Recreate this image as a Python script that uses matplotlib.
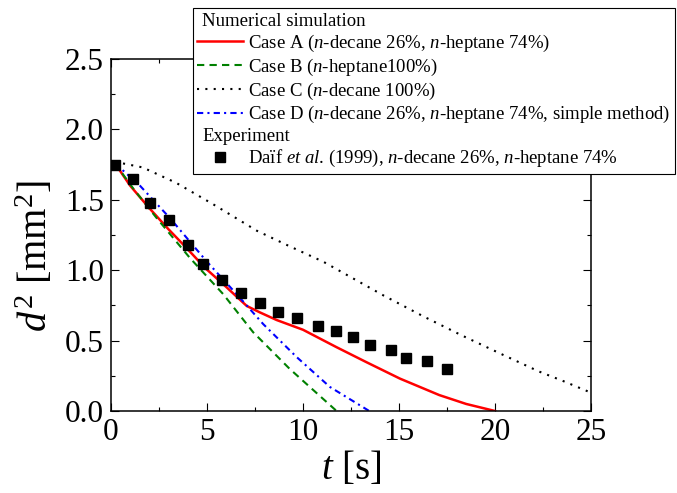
import matplotlib
matplotlib.use("Agg")
import matplotlib.pyplot as plt
from matplotlib.lines import Line2D
from matplotlib.ticker import MultipleLocator, FormatStrFormatter

plt.rcParams['font.family'] = ['Liberation Serif', 'DejaVu Serif']
plt.rcParams['mathtext.fontset'] = 'custom'
plt.rcParams['mathtext.rm'] = 'Liberation Serif'
plt.rcParams['mathtext.it'] = 'Liberation Serif:italic'

# case A: n-decane 26%, n-heptane 74%
t_a = [0.2, 1.0, 2.0, 3.0, 3.94, 4.9, 5.85, 7.07, 7.76, 8.63, 10.0, 11.75, 13.3, 15.05, 17.1, 18.5, 20.0]
d2_a = [1.76, 1.60, 1.44, 1.29, 1.157, 1.016, 0.90, 0.746, 0.70, 0.646, 0.577, 0.453, 0.347, 0.23, 0.113, 0.05, 0.0]

# case B: n-heptane 100%
t_b = [0.2, 1.16, 2.38, 4.11, 5.85, 7.4, 9.3, 11.75]
d2_b = [1.76, 1.58, 1.37, 1.087, 0.829, 0.56, 0.30, 0.0]

# case C: n-decane 100%
t_c = [0.2, 1.65, 3.4, 5.3, 7.6, 9.3, 11.06, 14.2, 16.3, 18.3, 20.4, 22.3, 23.6, 25.0]
d2_c = [1.77, 1.73, 1.62, 1.47, 1.28, 1.17, 1.06, 0.82, 0.67, 0.535, 0.40, 0.28, 0.21, 0.13]

# case D: simple method
t_d = [0.2, 1.51, 3.07, 4.98, 6.55, 7.93, 9.67, 11.4, 13.45]
d2_d = [1.76, 1.60, 1.37, 1.063, 0.829, 0.617, 0.383, 0.171, 0.0]

# experiment, Daif et al. (1999)
t_exp = [0.21, 1.16, 2.03, 3.02, 4.0, 4.81, 5.76, 6.75, 7.76, 8.72, 9.7, 10.76,
         11.72, 12.59, 13.49, 14.57, 15.36, 16.44, 17.48]
d2_exp = [1.75, 1.65, 1.479, 1.357, 1.181, 1.047, 0.93, 0.836, 0.765, 0.704, 0.657, 0.606,
          0.566, 0.523, 0.472, 0.43, 0.378, 0.352, 0.30]

labels = [
    'Case A ($n$-decane 26%, $n$-heptane 74%)',
    'Case B ($n$-heptane100%)',
    'Case C ($n$-decane 100%)',
    'Case D ($n$-decane 26%, $n$-heptane 74%, simple method)',
    r'Daïf $et$ $al$. (1999), $n$-decane 26%, $n$-heptane 74%',
]

fig = plt.figure(figsize=(6.77, 4.93), dpi=100)
ax = fig.add_axes([111 / 677, 1 - 411 / 493, 480 / 677, 352 / 493])

la, = ax.plot(t_a, d2_a, color='red', lw=1.8)
lb, = ax.plot(t_b, d2_b, color='green', lw=1.5, linestyle=(0, (3.5, 2.5)))
lc, = ax.plot(t_c, d2_c, color='black', lw=1.5, linestyle=(0, (1, 3)))
ld, = ax.plot(t_d, d2_d, color='blue', lw=1.5, linestyle=(0, (3, 2, 1, 2)))
le, = ax.plot(t_exp, d2_exp, linestyle='none', marker='s', markersize=7, color='black')

ax.set_xlim(0, 25)
ax.set_ylim(0, 2.5)
ax.xaxis.set_major_locator(MultipleLocator(5))
ax.xaxis.set_minor_locator(MultipleLocator(2.5))
ax.yaxis.set_major_locator(MultipleLocator(0.5))
ax.yaxis.set_minor_locator(MultipleLocator(0.25))
ax.yaxis.set_major_formatter(FormatStrFormatter('%.1f'))
ax.tick_params(which='both', direction='in', top=True, right=True, width=0.8, labelsize=22.5, pad=5)
ax.tick_params(which='major', length=5.5)
ax.tick_params(which='minor', length=3)
for s in ax.spines.values():
    s.set_linewidth(1.1)

ax.set_xlabel('$t$ [s]', fontsize=28, labelpad=2)
ax.set_ylabel('$d^2$ [mm$^2$]', fontsize=29)
ax.yaxis.set_label_coords(-0.115, 0.44)

blank = Line2D([], [], linestyle='none')
leg = fig.legend([blank, la, lb, lc, ld, blank, le],
                 ['Numerical simulation'] + labels[:4] + ['Experiment', labels[4]],
                 loc='upper right', bbox_to_anchor=(0.997, 0.984),
                 bbox_transform=fig.transFigure, fontsize=13.5, frameon=True,
                 fancybox=False, framealpha=1, edgecolor='black',
                 handlelength=2.45, handletextpad=0.25, labelspacing=0.15,
                 borderpad=0.25, borderaxespad=0, numpoints=1)
leg.get_frame().set_linewidth(0.8)

# header rows get no handle space
rows = leg._legend_handle_box.get_children()[0].get_children()
for i in (0, 5):
    rows[i].get_children()[0].set_width(0)

fig.savefig('out.png', dpi=100)
